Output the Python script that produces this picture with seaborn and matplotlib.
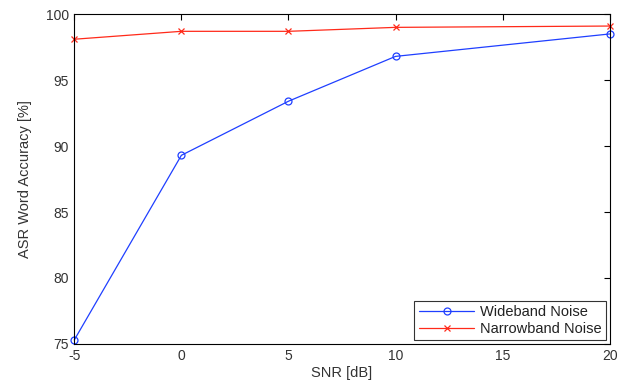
import numpy as np
import pandas as pd
import matplotlib
matplotlib.use("Agg")
import matplotlib.pyplot as plt
import seaborn as sns

snr = [-5, 0, 5, 10, 20]
wideband = [75.3, 89.3, 93.4, 96.8, 98.5]
narrowband = [98.1, 98.7, 98.7, 99.0, 99.1]

sns.set_style("white")
plt.rcParams["font.family"] = ["Liberation Sans", "DejaVu Sans"]
plt.rcParams["font.size"] = 10
plt.rcParams["axes.unicode_minus"] = False

fig = plt.figure(figsize=(6.19, 3.83), dpi=100)
ax = fig.add_axes([0.12, 0.102, 0.865, 0.861])

# Wideband (blue circles)
sns.lineplot(x=snr, y=wideband, ax=ax, color="#1f3fff", linewidth=0.9,
             marker="o", markersize=5, markerfacecolor="none",
             markeredgecolor="#1f3fff", markeredgewidth=0.9,
             label="Wideband Noise", clip_on=False)
# Narrowband (red crosses)
sns.lineplot(x=snr, y=narrowband, ax=ax, color="#ff2a1a", linewidth=0.9,
             marker="x", markersize=4, markeredgecolor="#ff2a1a",
             markeredgewidth=0.9, label="Narrowband Noise", clip_on=False)

ax.set_xlim(-5, 20)
ax.set_ylim(75, 100)
ax.set_xticks([-5, 0, 5, 10, 15, 20])
ax.set_yticks([75, 80, 85, 90, 95, 100])
ax.tick_params(direction="in", length=4, width=0.8, colors="#333333",
               labelsize=10, top=True, right=True, pad=4)
ax.tick_params(axis="both", color="black")
for s in ax.spines.values():
    s.set_color("black")
    s.set_linewidth(0.8)
ax.set_xlabel("SNR [dB]", fontsize=10.5, color="#333333", labelpad=2)
ax.set_ylabel("ASR Word Accuracy [%]", fontsize=10.5, color="#333333",
              labelpad=10)

leg = ax.legend(loc="lower right", fontsize=10.5, frameon=True, fancybox=False,
                borderaxespad=0.25, handlelength=3.8, borderpad=0.3,
                labelspacing=0.2, handletextpad=0.4)
leg.get_frame().set_edgecolor("black")
leg.get_frame().set_linewidth(0.8)
for t in leg.get_texts():
    t.set_color("#222222")

fig.savefig("out.png", dpi=100)
